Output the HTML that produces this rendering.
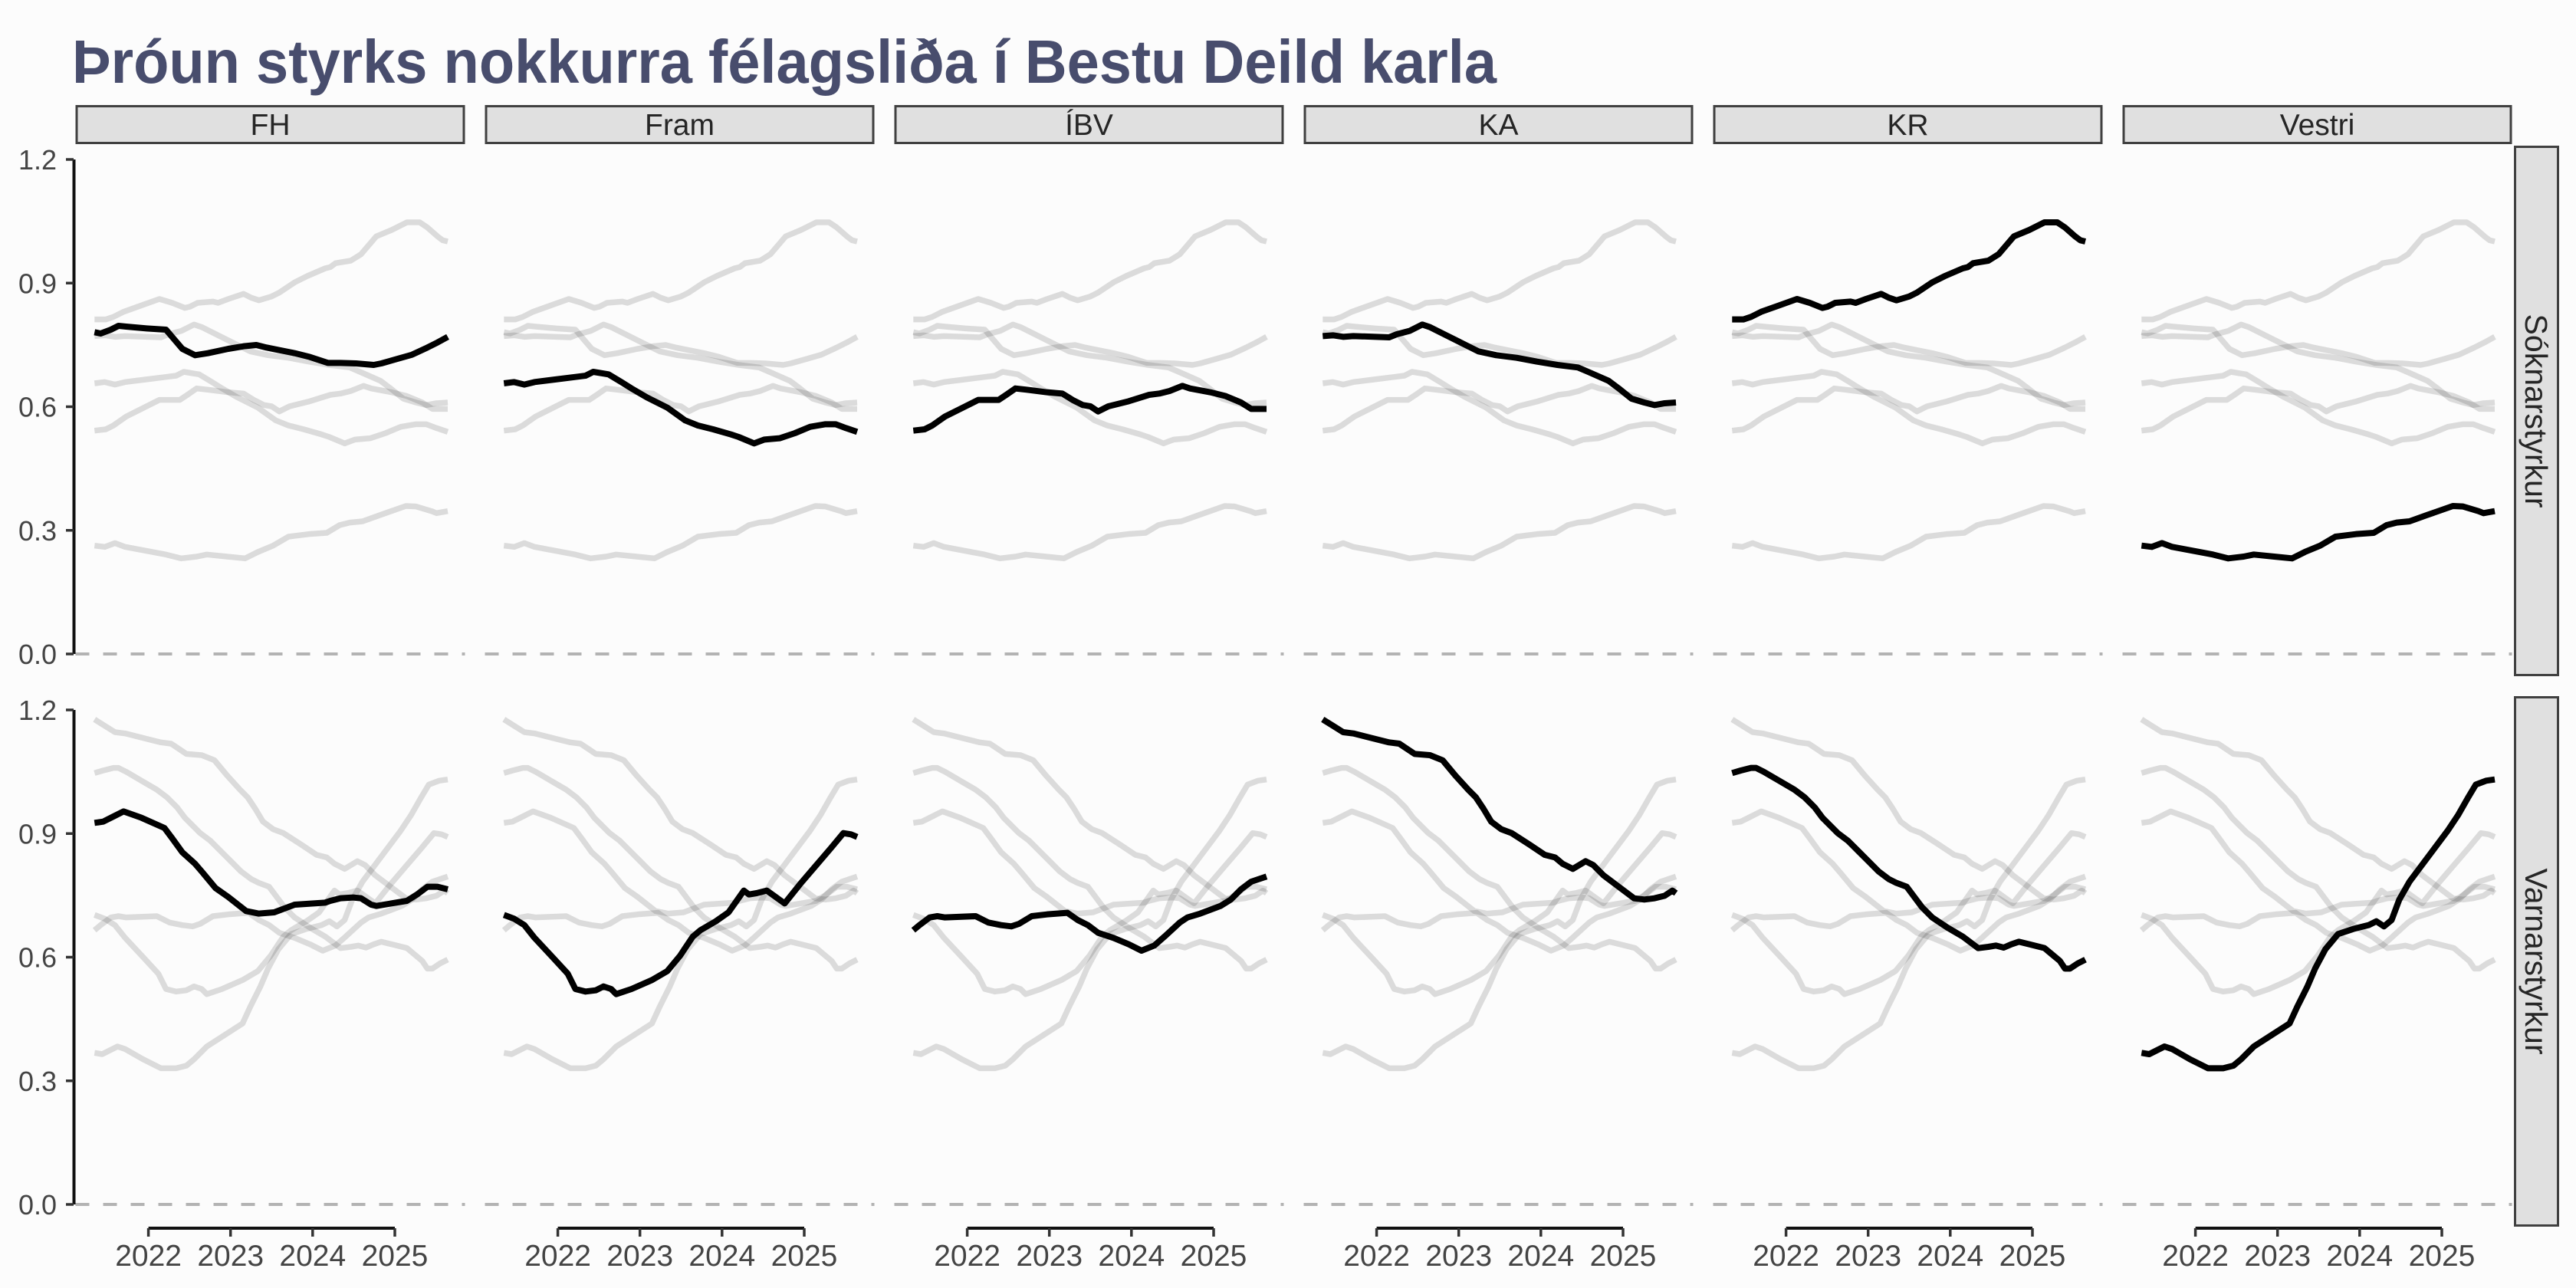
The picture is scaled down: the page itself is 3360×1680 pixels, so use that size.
<!DOCTYPE html>
<html>
<head>
<meta charset="utf-8">
<style>
html,body{margin:0;padding:0;background:#fcfcfc;}
svg{display:block;}
polyline{vector-effect:non-scaling-stroke;}
.g{stroke:#000;stroke-opacity:0.13;stroke-width:7.5;fill:none;}
.k{stroke:#000;stroke-width:8;fill:none;}
.st{fill:#e0e0e0;stroke:#404040;stroke-width:3;}
.sl{font-family:"Liberation Sans",sans-serif;font-size:39px;fill:#262626;text-anchor:middle;}
.sr{font-family:"Liberation Sans",sans-serif;font-size:41px;fill:#262626;text-anchor:middle;}
.yl{font-family:"Liberation Sans",sans-serif;font-size:36px;fill:#444;text-anchor:end;}
.xl{font-family:"Liberation Sans",sans-serif;font-size:39px;fill:#444;text-anchor:middle;}
.dash{stroke:#b3b3b3;stroke-width:4;stroke-dasharray:18 18;}
</style>
</head>
<body>
<svg width="3360" height="1680" viewBox="0 0 3360 1680" xmlns="http://www.w3.org/2000/svg">
<defs>
<polyline id="a0" fill="none" vector-effect="non-scaling-stroke" stroke-linejoin="round" points="38,550 50,555 70,540 85,525 100,528 140,535 178,540 195,580 210,615 235,640 260,632 300,615 330,605 355,600 375,610 400,620 430,632 460,647 495,670 520,670 550,672 585,678 600,672 630,655 660,638 690,610 710,590 730,568"/>
<polyline id="a1" fill="none" vector-effect="non-scaling-stroke" stroke-linejoin="round" points="38,750 58,745 78,755 98,745 138,735 178,725 198,720 213,705 243,715 268,745 288,770 318,805 358,845 393,895 418,915 448,930 483,950 498,960 528,985 548,970 578,965 608,945 638,920 668,910 688,910 708,925 730,940"/>
<polyline id="a2" fill="none" vector-effect="non-scaling-stroke" stroke-linejoin="round" points="38,935 60,930 75,915 100,880 135,845 165,815 205,815 220,795 238,770 260,775 300,785 330,790 350,815 370,835 385,840 400,860 420,840 460,820 500,795 520,790 540,780 565,760 580,770 620,785 650,800 680,825 700,850 730,850"/>
<polyline id="a3" fill="none" vector-effect="non-scaling-stroke" stroke-linejoin="round" points="38,565 58,562 78,568 98,565 168,570 183,558 208,545 233,520 248,530 278,560 308,590 343,625 378,640 418,650 458,665 498,678 538,688 558,705 598,740 618,770 643,810 668,825 688,835 708,828 730,825"/>
<polyline id="a4" fill="none" vector-effect="non-scaling-stroke" stroke-linejoin="round" points="38,500 60,500 75,490 95,470 130,445 165,420 190,435 215,455 225,450 240,435 270,430 280,435 300,420 330,400 345,415 360,425 385,410 400,395 430,355 455,330 490,300 500,295 510,280 540,270 560,245 590,175 620,150 650,120 675,120 690,140 710,175 720,190 730,195"/>
<polyline id="a5" fill="none" vector-effect="non-scaling-stroke" stroke-linejoin="round" points="38,1385 58,1390 78,1375 98,1390 138,1405 178,1420 208,1435 238,1428 258,1420 298,1428 333,1435 358,1410 388,1385 418,1350 458,1340 493,1335 518,1305 538,1295 563,1290 598,1265 648,1230 668,1232 698,1250 708,1258 730,1250"/>

<polyline id="b0" fill="none" vector-effect="non-scaling-stroke" stroke-linejoin="round" points="38,460 55,455 75,435 95,415 130,440 175,480 190,520 210,575 235,620 250,655 275,715 300,750 335,805 360,815 390,810 410,795 430,780 490,772 500,765 520,755 545,752 560,755 580,780 590,785 620,775 650,765 670,740 690,710 710,710 730,720"/>
<polyline id="b1" fill="none" vector-effect="non-scaling-stroke" stroke-linejoin="round" points="38,820 58,835 78,860 98,910 133,985 163,1050 178,1110 198,1120 218,1115 233,1100 248,1110 258,1130 288,1110 328,1075 358,1040 383,980 408,905 423,880 453,845 478,810 508,725 518,740 533,735 553,725 588,775 618,700 648,630 678,560 703,500 718,505 730,515"/>
<polyline id="b2" fill="none" vector-effect="non-scaling-stroke" stroke-linejoin="round" points="38,880 50,860 70,830 85,825 100,830 160,825 185,850 210,860 230,865 245,855 270,825 300,818 340,812 360,840 380,860 400,890 430,910 460,935 485,960 510,940 530,905 560,850 575,830 600,815 640,785 660,760 680,720 700,690 730,670"/>
<polyline id="b3" fill="none" vector-effect="non-scaling-stroke" stroke-linejoin="round" points="38,55 58,80 78,105 98,110 138,130 168,145 188,150 203,170 218,190 248,195 273,215 298,275 323,330 338,360 353,405 368,455 388,485 408,500 443,545 473,585 493,595 508,620 528,640 553,610 568,625 588,665 618,710 648,755 668,760 688,755 708,745 723,725 730,735"/>
<polyline id="b4" fill="none" vector-effect="non-scaling-stroke" stroke-linejoin="round" points="38,265 55,255 75,245 85,245 100,260 130,295 160,330 180,360 200,400 215,440 230,470 245,500 265,530 285,570 305,610 325,650 345,680 360,695 380,710 395,750 410,790 430,830 460,870 490,905 510,935 520,950 540,945 555,940 570,948 585,935 600,925 620,935 650,950 665,975 680,1000 690,1030 700,1030 715,1010 730,995"/>
<polyline id="b5" fill="none" vector-effect="non-scaling-stroke" stroke-linejoin="round" points="38,1360 53,1365 68,1350 83,1335 98,1345 133,1385 168,1420 198,1420 218,1410 233,1385 258,1335 293,1290 328,1245 343,1180 363,1100 378,1030 398,955 423,895 453,875 483,860 498,845 513,865 528,840 543,760 563,690 578,650 608,570 638,490 658,430 678,360 693,310 713,295 730,290"/>

<g id="ga">
<use href="#a0"/><use href="#a1"/><use href="#a2"/><use href="#a3"/><use href="#a4"/><use href="#a5"/>
</g>
<g id="gb">
<use href="#b0"/><use href="#b1"/><use href="#b2"/><use href="#b3"/><use href="#b4"/><use href="#b5"/>
</g>
</defs>

<rect x="0" y="0" width="3360" height="1680" fill="#fcfcfc"/>

<!-- Title -->
<text x="94" y="108" font-family="Liberation Sans, sans-serif" font-weight="bold" font-size="80" fill="#484d6d" textLength="1858" lengthAdjust="spacingAndGlyphs">Þróun styrks nokkurra félagsliða í Bestu Deild karla</text>

<!-- Top strips -->
<rect class="st" x="100" y="138.5" width="505" height="48"/>
<rect class="st" x="634" y="138.5" width="505" height="48"/>
<rect class="st" x="1168" y="138.5" width="505" height="48"/>
<rect class="st" x="1702" y="138.5" width="505" height="48"/>
<rect class="st" x="2236" y="138.5" width="505" height="48"/>
<rect class="st" x="2770" y="138.5" width="505" height="48"/>
<text class="sl" x="352.5" y="176">FH</text>
<text class="sl" x="886.5" y="176">Fram</text>
<text class="sl" x="1420.5" y="176">ÍBV</text>
<text class="sl" x="1954.5" y="176">KA</text>
<text class="sl" x="2488.5" y="176">KR</text>
<text class="sl" x="3022.5" y="176">Vestri</text>

<!-- Right strips -->
<rect class="st" x="3280.5" y="191.5" width="56" height="689"/>
<rect class="st" x="3280.5" y="909.5" width="56" height="689"/>
<text class="sr" transform="translate(3294,536) rotate(90)" x="0" y="0">Sóknarstyrkur</text>
<text class="sr" transform="translate(3294,1254) rotate(90)" x="0" y="0">Varnarstyrkur</text>

<!-- Dashed zero lines -->
<g class="dash">
<line x1="98.5" y1="853" x2="606.5" y2="853"/>
<line x1="632.5" y1="853" x2="1140.5" y2="853"/>
<line x1="1166.5" y1="853" x2="1674.5" y2="853"/>
<line x1="1700.5" y1="853" x2="2208.5" y2="853"/>
<line x1="2234.5" y1="853" x2="2742.5" y2="853"/>
<line x1="2768.5" y1="853" x2="3276.5" y2="853"/>
<line x1="98.5" y1="1571" x2="606.5" y2="1571"/>
<line x1="632.5" y1="1571" x2="1140.5" y2="1571"/>
<line x1="1166.5" y1="1571" x2="1674.5" y2="1571"/>
<line x1="1700.5" y1="1571" x2="2208.5" y2="1571"/>
<line x1="2234.5" y1="1571" x2="2742.5" y2="1571"/>
<line x1="2768.5" y1="1571" x2="3276.5" y2="1571"/>
</g>

<!-- Row 1 panels -->
<g transform="translate(98,250) scale(0.66578,0.33333)"><use href="#ga" class="g"/><use href="#a0" class="k"/></g>
<g transform="translate(632,250) scale(0.66578,0.33333)"><use href="#ga" class="g"/><use href="#a1" class="k"/></g>
<g transform="translate(1166,250) scale(0.66578,0.33333)"><use href="#ga" class="g"/><use href="#a2" class="k"/></g>
<g transform="translate(1700,250) scale(0.66578,0.33333)"><use href="#ga" class="g"/><use href="#a3" class="k"/></g>
<g transform="translate(2234,250) scale(0.66578,0.33333)"><use href="#ga" class="g"/><use href="#a4" class="k"/></g>
<g transform="translate(2768,250) scale(0.66578,0.33333)"><use href="#ga" class="g"/><use href="#a5" class="k"/></g>

<!-- Row 2 panels -->
<g transform="translate(98,920) scale(0.66578,0.33333)"><use href="#gb" class="g"/><use href="#b0" class="k"/></g>
<g transform="translate(632,920) scale(0.66578,0.33333)"><use href="#gb" class="g"/><use href="#b1" class="k"/></g>
<g transform="translate(1166,920) scale(0.66578,0.33333)"><use href="#gb" class="g"/><use href="#b2" class="k"/></g>
<g transform="translate(1700,920) scale(0.66578,0.33333)"><use href="#gb" class="g"/><use href="#b3" class="k"/></g>
<g transform="translate(2234,920) scale(0.66578,0.33333)"><use href="#gb" class="g"/><use href="#b4" class="k"/></g>
<g transform="translate(2768,920) scale(0.66578,0.33333)"><use href="#gb" class="g"/><use href="#b5" class="k"/></g>

<!-- Y axes -->
<g stroke="#111" stroke-width="4">
<line x1="96.5" y1="208" x2="96.5" y2="853"/>
<line x1="96.5" y1="926" x2="96.5" y2="1571"/>
</g>
<g stroke="#333" stroke-width="3.5">
<line x1="86" y1="208" x2="96" y2="208"/>
<line x1="86" y1="369.25" x2="96" y2="369.25"/>
<line x1="86" y1="530.5" x2="96" y2="530.5"/>
<line x1="86" y1="691.75" x2="96" y2="691.75"/>
<line x1="86" y1="853" x2="96" y2="853"/>
<line x1="86" y1="926" x2="96" y2="926"/>
<line x1="86" y1="1087.25" x2="96" y2="1087.25"/>
<line x1="86" y1="1248.5" x2="96" y2="1248.5"/>
<line x1="86" y1="1409.75" x2="96" y2="1409.75"/>
<line x1="86" y1="1571" x2="96" y2="1571"/>
</g>
<text class="yl" x="74" y="221">1.2</text>
<text class="yl" x="74" y="382.25">0.9</text>
<text class="yl" x="74" y="543.5">0.6</text>
<text class="yl" x="74" y="704.75">0.3</text>
<text class="yl" x="74" y="866">0.0</text>
<text class="yl" x="74" y="939">1.2</text>
<text class="yl" x="74" y="1100.25">0.9</text>
<text class="yl" x="74" y="1261.5">0.6</text>
<text class="yl" x="74" y="1422.75">0.3</text>
<text class="yl" x="74" y="1584">0.0</text>

<!-- X axes -->
<g stroke="#111" stroke-width="4">
<line x1="193.6" y1="1602" x2="515" y2="1602"/>
<line x1="727.6" y1="1602" x2="1049" y2="1602"/>
<line x1="1261.6" y1="1602" x2="1583" y2="1602"/>
<line x1="1795.6" y1="1602" x2="2117" y2="1602"/>
<line x1="2329.6" y1="1602" x2="2651" y2="1602"/>
<line x1="2863.6" y1="1602" x2="3185" y2="1602"/>
</g>
<g stroke="#333" stroke-width="3.5">
<line x1="193.6" y1="1602" x2="193.6" y2="1613"/><line x1="300.7" y1="1602" x2="300.7" y2="1613"/><line x1="407.8" y1="1602" x2="407.8" y2="1613"/><line x1="515" y1="1602" x2="515" y2="1613"/>
<line x1="727.6" y1="1602" x2="727.6" y2="1613"/><line x1="834.7" y1="1602" x2="834.7" y2="1613"/><line x1="941.8" y1="1602" x2="941.8" y2="1613"/><line x1="1049" y1="1602" x2="1049" y2="1613"/>
<line x1="1261.6" y1="1602" x2="1261.6" y2="1613"/><line x1="1368.7" y1="1602" x2="1368.7" y2="1613"/><line x1="1475.8" y1="1602" x2="1475.8" y2="1613"/><line x1="1583" y1="1602" x2="1583" y2="1613"/>
<line x1="1795.6" y1="1602" x2="1795.6" y2="1613"/><line x1="1902.7" y1="1602" x2="1902.7" y2="1613"/><line x1="2009.8" y1="1602" x2="2009.8" y2="1613"/><line x1="2117" y1="1602" x2="2117" y2="1613"/>
<line x1="2329.6" y1="1602" x2="2329.6" y2="1613"/><line x1="2436.7" y1="1602" x2="2436.7" y2="1613"/><line x1="2543.8" y1="1602" x2="2543.8" y2="1613"/><line x1="2651" y1="1602" x2="2651" y2="1613"/>
<line x1="2863.6" y1="1602" x2="2863.6" y2="1613"/><line x1="2970.7" y1="1602" x2="2970.7" y2="1613"/><line x1="3077.8" y1="1602" x2="3077.8" y2="1613"/><line x1="3185" y1="1602" x2="3185" y2="1613"/>
</g>
<g class="xl">
<text class="xl" x="193.6" y="1651">2022</text><text class="xl" x="300.7" y="1651">2023</text><text class="xl" x="407.8" y="1651">2024</text><text class="xl" x="515" y="1651">2025</text>
<text class="xl" x="727.6" y="1651">2022</text><text class="xl" x="834.7" y="1651">2023</text><text class="xl" x="941.8" y="1651">2024</text><text class="xl" x="1049" y="1651">2025</text>
<text class="xl" x="1261.6" y="1651">2022</text><text class="xl" x="1368.7" y="1651">2023</text><text class="xl" x="1475.8" y="1651">2024</text><text class="xl" x="1583" y="1651">2025</text>
<text class="xl" x="1795.6" y="1651">2022</text><text class="xl" x="1902.7" y="1651">2023</text><text class="xl" x="2009.8" y="1651">2024</text><text class="xl" x="2117" y="1651">2025</text>
<text class="xl" x="2329.6" y="1651">2022</text><text class="xl" x="2436.7" y="1651">2023</text><text class="xl" x="2543.8" y="1651">2024</text><text class="xl" x="2651" y="1651">2025</text>
<text class="xl" x="2863.6" y="1651">2022</text><text class="xl" x="2970.7" y="1651">2023</text><text class="xl" x="3077.8" y="1651">2024</text><text class="xl" x="3185" y="1651">2025</text>
</g>
</svg>
</body>
</html>
